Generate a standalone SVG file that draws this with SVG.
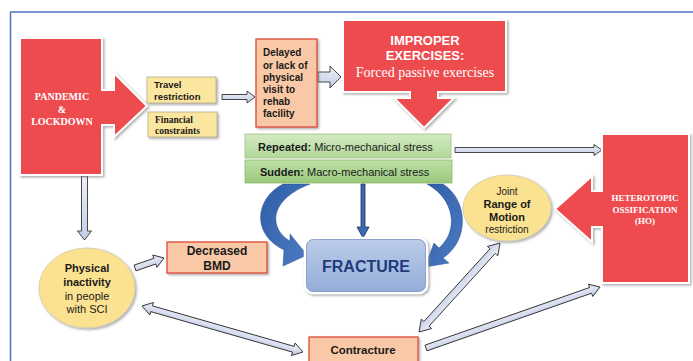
<svg xmlns="http://www.w3.org/2000/svg" width="693" height="361" viewBox="0 0 693 361">
<defs>
  <filter id="sh" x="-10%" y="-10%" width="130%" height="130%">
    <feDropShadow dx="1.5" dy="1.5" stdDeviation="1.2" flood-color="#777" flood-opacity="0.6"/>
  </filter>
  <linearGradient id="gGreen1" x1="0" y1="0" x2="0" y2="1">
    <stop offset="0" stop-color="#d3eac2"/>
    <stop offset="1" stop-color="#b2d89a"/>
  </linearGradient>
  <linearGradient id="gGreen2" x1="0" y1="0" x2="0" y2="1">
    <stop offset="0" stop-color="#bddfa6"/>
    <stop offset="1" stop-color="#99c97c"/>
  </linearGradient>
  <linearGradient id="gFrac" x1="0" y1="0" x2="0" y2="1">
    <stop offset="0" stop-color="#bccde9"/>
    <stop offset="1" stop-color="#93acd8"/>
  </linearGradient>
  <linearGradient id="gArrow" x1="0" y1="0" x2="0" y2="1">
    <stop offset="0" stop-color="#eef1f9"/>
    <stop offset="1" stop-color="#c3cce6"/>
  </linearGradient>
  <linearGradient id="gBlue" x1="0" y1="0" x2="1" y2="1">
    <stop offset="0" stop-color="#2f5ea8"/>
    <stop offset="1" stop-color="#4d7cc4"/>
  </linearGradient>
</defs>
<style>
  .red{fill:#ee4c50;stroke:#fff;stroke-width:2;stroke-linejoin:miter;filter:url(#sh)}
  .yel{fill:#fbe69f;stroke:#b8b090;stroke-width:0.8;filter:url(#sh)}
  .sal{fill:#f9c8a6;stroke:#dd4b36;stroke-width:1.3;filter:url(#sh)}
  .ell{fill:#fbe291;stroke:#d9d0b0;stroke-width:1;filter:url(#sh)}
  .arr{fill:url(#gArrow);stroke:#333;stroke-width:0.9;stroke-linejoin:miter}
  .blue{fill:url(#gBlue);stroke:#2a4f90;stroke-width:0.5}
  .sans{font-family:"Liberation Sans",Arial,sans-serif}
  .serif{font-family:"Liberation Serif","Times New Roman",serif}
  .b{font-weight:bold}
  .w{fill:#fff}
  .k{fill:#1a1a1a}
</style>

<g id="frame" fill="none" stroke="#4f74c0" stroke-width="1.5">
  <line x1="10" y1="12" x2="693" y2="12"/>
  <line x1="10.5" y1="12" x2="10.5" y2="361"/>
</g>

<g id="connectors">
  <!-- travel -> delayed -->
  <polygon class="arr" points="222,94.5 247,94.5 247,91 255,97 247,103 247,99.5 222,99.5"/>
  <!-- delayed -> improper -->
  <polygon class="arr" points="318,72 330,72 330,66 341,77 330,88 330,82 318,82"/>
  <!-- repeated -> HO -->
  <polygon class="arr" points="455,147.5 594,147.5 594,144.5 602,150 594,155.5 594,152.5 455,152.5"/>
  <!-- pandemic -> physical inactivity -->
  <polygon class="arr" points="81.5,176 87.5,176 87.5,231 91.5,231 84.5,240 77.5,231 81.5,231"/>
  <!-- physical -> BMD -->
  <polygon class="arr" transform="translate(135,268) rotate(-19)" points="0,-3 21,-3 21,-6.5 30.7,0 21,6.5 21,3 0,3"/>
  <!-- physical <-> contracture -->
  <polygon class="arr" transform="translate(142,306) rotate(15.95)" points="0,0 10,-6.5 10,-3 157.4,-3 157.4,-6.5 167.4,0 157.4,6.5 157.4,3 10,3 10,6.5"/>
  <!-- contracture -> HO -->
  <polygon class="arr" transform="translate(426,348) rotate(-19.3)" points="0,-3 174.4,-3 174.4,-6.5 184.4,0 174.4,6.5 174.4,3 0,3"/>
  <!-- joint ROM <-> contracture -->
  <polygon class="arr" transform="translate(500,243) rotate(132.3)" points="0,0 11,-7 11,-3.5 109.3,-3.5 109.3,-7 120.3,0 109.3,7 109.3,3.5 11,3.5 11,7"/>
  <!-- blue arrows into fracture -->
  <path class="blue" d="M283 184 C256 198 250 233 284 250 L283 266 L307 255 L290 234 L290 241 C269 229 268 200 310 184 Z"/>
  <path class="blue" d="M427 184 C456 200 458 232 439 248 L434 243 L425 267 L449 263 L443 258 C470 240 468 200 443 184 Z"/>
  <polygon points="361,184 365,184 365,227 369,227 363,238 357,227 361,227" fill="#3d68b0" stroke="#1e3060" stroke-width="0.8"/>
</g>

<g id="pandemic">
  <polygon class="red" points="20,38 102,38 102,90 114,90 114,73 147,106 114,137 114,125 102,125 102,175 20,175"/>
  <g class="serif b w" font-size="10" text-anchor="middle">
    <text x="62" y="99.5">PANDEMIC</text>
    <text x="62" y="113">&amp;</text>
    <text x="62" y="125">LOCKDOWN</text>
  </g>
</g>

<g id="travel">
  <rect class="yel" x="147" y="77" width="69" height="26"/>
  <g class="sans b k" font-size="9.5">
    <text x="154" y="88">Travel</text>
    <text x="154" y="100">restriction</text>
  </g>
</g>

<g id="financial">
  <rect class="yel" x="148" y="112" width="69" height="25"/>
  <g class="serif b k" font-size="9.5">
    <text x="155" y="122.5">Financial</text>
    <text x="155" y="134">constraints</text>
  </g>
</g>

<g id="delayed">
  <rect class="sal" x="256" y="39" width="61" height="88"/>
  <g class="sans b k" font-size="10">
    <text x="263" y="56">Delayed</text>
    <text x="263" y="68.5">or lack of</text>
    <text x="263" y="81">physical</text>
    <text x="263" y="93">visit to</text>
    <text x="263" y="105">rehab</text>
    <text x="263" y="117">facility</text>
  </g>
</g>

<g id="improper">
  <polygon class="red" points="343,20 506,20 506,92 438,92 438,98 454,98 424,128 394,98 410,98 410,92 343,92"/>
  <g class="sans b w" font-size="13" text-anchor="middle">
    <text x="425" y="45">IMPROPER</text>
    <text x="425" y="60">EXERCISES:</text>
  </g>
  <text class="serif w" font-size="14" x="425" y="77" text-anchor="middle">Forced passive exercises</text>
</g>

<g id="repeated">
  <rect x="245" y="134" width="206" height="24" fill="url(#gGreen1)" stroke="#9cc283" stroke-width="0.8"/>
  <text class="sans k" font-size="11" x="258" y="151"><tspan font-weight="bold">Repeated:</tspan> Micro-mechanical stress</text>
</g>

<g id="sudden">
  <rect x="245" y="160" width="207" height="23" fill="url(#gGreen2)" stroke="#8aba6e" stroke-width="0.8"/>
  <text class="sans k" font-size="11" x="260" y="176"><tspan font-weight="bold">Sudden:</tspan> Macro-mechanical stress</text>
</g>

<g id="ho">
  <polygon class="red" points="602,134 689,134 689,283 602,283 602,227 592,227 592,242 555,209 592,176 592,191 602,191"/>
  <g class="serif b w" font-size="9" text-anchor="middle">
    <text x="645" y="201">HETEROTOPIC</text>
    <text x="645" y="212.5">OSSIFICATION</text>
    <text x="645" y="224">(HO)</text>
  </g>
</g>

<g id="joint-rom">
  <ellipse class="ell" cx="507" cy="208" rx="44" ry="33"/>
  <g class="sans k" text-anchor="middle">
    <text x="507" y="195" font-size="10">Joint</text>
    <text x="507" y="208" font-size="11" font-weight="bold">Range of</text>
    <text x="507" y="220.5" font-size="11" font-weight="bold">Motion</text>
    <text x="507" y="232.5" font-size="10">restriction</text>
  </g>
</g>

<g id="fracture">
  <rect x="305" y="238" width="122" height="55" rx="8" fill="url(#gFrac)" stroke="#fff" stroke-width="2.5" filter="url(#sh)"/>
  <rect x="306.5" y="239.5" width="119" height="52" rx="7" fill="none" stroke="#7e97c6" stroke-width="0.8"/>
  <text class="sans b" font-size="16" x="366" y="272" text-anchor="middle" fill="#1f3b7b">FRACTURE</text>
</g>

<g id="bmd">
  <rect class="sal" x="167" y="242" width="100" height="31"/>
  <g class="sans b k" font-size="12" text-anchor="middle">
    <text x="217" y="255">Decreased</text>
    <text x="217" y="270">BMD</text>
  </g>
</g>

<g id="physical-inactivity">
  <ellipse class="ell" cx="87" cy="288" rx="48" ry="40"/>
  <g class="sans k" font-size="11" text-anchor="middle">
    <text x="87" y="272" font-weight="bold">Physical</text>
    <text x="87" y="285.5" font-weight="bold">inactivity</text>
    <text x="87" y="299.5">in people</text>
    <text x="87" y="313">with SCI</text>
  </g>
</g>

<g id="contracture">
  <rect class="sal" x="309" y="337" width="109" height="30"/>
  <text class="sans b k" font-size="11.5" x="363" y="354" text-anchor="middle">Contracture</text>
</g>
</svg>
